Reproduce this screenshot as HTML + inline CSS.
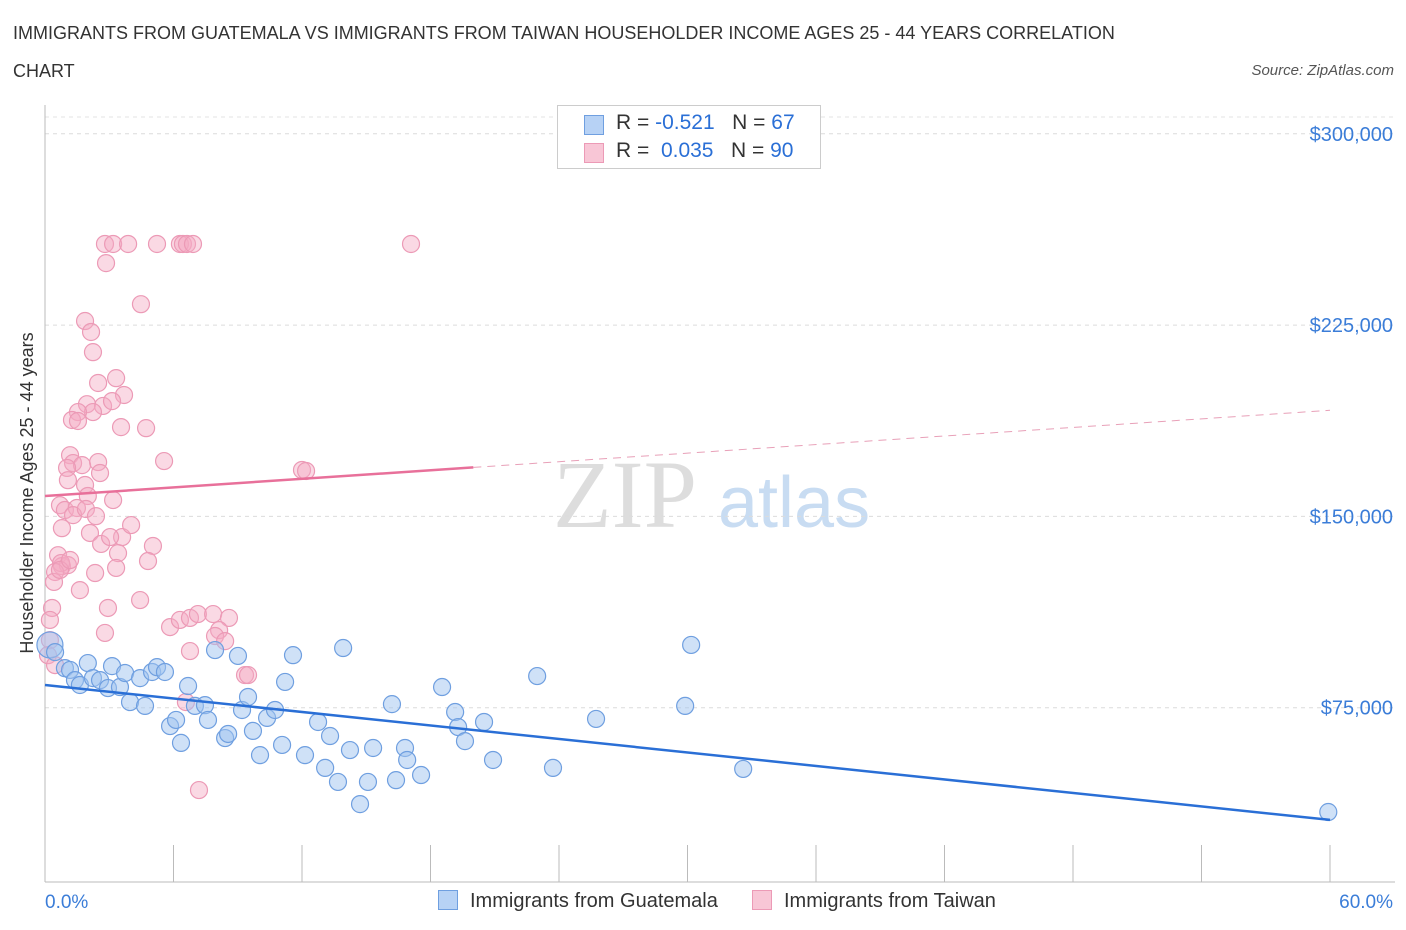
<!DOCTYPE html>
<html><head><meta charset="utf-8"><style>
body{margin:0;background:#fff;font-family:"Liberation Sans",sans-serif;}
#wrap{position:relative;width:1406px;height:930px;overflow:hidden}
.t{position:absolute;white-space:nowrap}
</style></head><body><div id="wrap">
<div class="t" style="left:13px;top:14px;font-size:18px;color:#333;line-height:38px">IMMIGRANTS FROM GUATEMALA VS IMMIGRANTS FROM TAIWAN HOUSEHOLDER INCOME AGES 25 - 44 YEARS CORRELATION<br>CHART</div>
<div class="t" style="right:12px;top:62px;font-size:15px;color:#555;font-style:italic">Source: ZipAtlas.com</div>
<svg id="svg" width="1406" height="930" style="position:absolute;left:0;top:0"></svg>
</div>
<script>
const blueX=[0.23,0.47,0.93,1.17,1.4,1.63,2.0,2.24,2.57,2.94,3.13,3.5,3.74,3.97,4.44,4.67,5.0,5.23,5.6,5.84,6.12,6.35,6.68,7.0,7.47,7.61,7.94,8.41,8.55,9.01,9.2,9.48,9.71,10.04,10.37,10.74,11.07,11.21,11.58,12.14,12.75,13.08,13.31,13.68,13.92,14.24,14.71,15.08,15.32,16.2,16.39,16.81,16.91,17.56,18.54,19.15,19.29,19.61,20.5,20.92,22.98,23.72,25.73,29.89,30.17,32.6,59.92];
const blueY=[99.6,96.8,90.5,89.8,85.8,83.9,92.5,86.6,85.8,82.7,91.3,83.1,88.6,77.2,86.6,75.7,89.0,90.9,89.0,67.8,70.2,61.2,83.5,75.7,76.0,70.2,97.6,63.1,64.7,95.3,74.1,79.2,65.9,56.4,71.0,74.1,60.4,85.1,95.6,56.4,69.4,51.4,63.9,45.9,98.4,58.4,37.2,45.9,59.2,76.4,46.6,59.2,54.5,48.6,83.1,73.3,67.4,61.9,69.4,54.5,87.4,51.4,70.6,75.7,99.6,51.0,34.1];
const pinkX=[2.8,3.18,3.88,5.23,6.3,6.44,6.63,6.91,17.09,2.85,4.48,1.87,2.15,2.24,2.48,3.32,3.69,1.96,2.71,3.13,2.24,1.54,1.26,1.54,3.55,4.72,1.17,1.31,1.73,2.48,2.57,5.56,12.0,12.19,1.03,1.07,1.87,2.0,3.18,0.7,0.93,1.49,1.31,1.91,2.38,0.79,2.1,2.62,3.6,3.04,4.02,5.04,3.41,0.61,0.79,1.07,0.75,4.81,3.32,2.34,0.47,0.42,4.44,2.94,0.33,0.23,2.8,5.84,6.3,6.77,7.14,7.85,8.59,8.13,7.94,8.41,6.77,9.34,9.48,6.58,7.19,0.23,0.14,0.47,0.7,1.17,1.63];
const pinkY=[256.8,256.8,256.8,256.8,256.8,256.8,256.8,256.8,256.8,249.3,233.2,226.6,222.3,214.4,202.3,204.2,197.6,194.0,193.3,195.2,190.9,190.9,187.8,187.4,185.0,184.6,174.0,170.9,170.1,171.3,167.0,171.7,168.2,167.8,169.0,164.2,162.3,158.0,156.4,154.4,152.5,153.3,150.5,152.9,150.1,145.4,143.5,139.2,141.9,141.9,146.6,138.4,135.6,134.8,130.5,130.9,131.7,132.5,129.8,127.8,128.2,124.3,117.2,114.1,114.1,109.4,104.3,106.6,109.4,110.2,111.7,111.7,110.2,105.4,103.1,101.1,97.2,87.8,87.8,77.2,42.7,101.5,95.6,91.7,129.0,132.9,121.1];
const yTicks=[300,225,150,75];
const yTickLabels=["$300,000","$225,000","$150,000","$75,000"];
const blueTrend=[83.9,31.0];
const pinkTrend=[158.0,0.56];
const xS=v=>45+v/60*1285, yS=v=>899-v*2.5507;
const NS="http://www.w3.org/2000/svg",svg=document.getElementById('svg');
function mk(t,a,p){const e=document.createElementNS(NS,t);for(const k in a)e.setAttribute(k,a[k]);(p||svg).appendChild(e);return e;}
let w=mk('text',{x:553,y:527,'font-size':96,fill:'#ddd','font-family':'Liberation Serif'});w.textContent='ZIP';


w=mk('text',{x:718,y:527,'font-size':72,fill:'#c8dcf2','font-family':'Liberation Sans'});w.textContent='atlas';


let g=mk('line',{x1:45,x2:1395,y1:117,y2:117,stroke:'#e3e3e3','stroke-dasharray':'4,4'});


yTicks.forEach((v,i)=>{
 const l=mk('line',{x1:45,x2:1395,y1:yS(v*1),y2:yS(v*1),stroke:'#dcdcdc','stroke-dasharray':'4,4'});
 
 
 const t=mk('text',{x:1393,y:yS(v)+7,'text-anchor':'end','font-size':20,fill:'#3b7dd8'});t.textContent=yTickLabels[i];
 
 
});
let ax=mk('line',{x1:45,x2:45,y1:105,y2:882,stroke:'#bbb'});


ax=mk('line',{x1:45,x2:1395,y1:882,y2:882,stroke:'#bbb'});


for(let i=0;i<=10;i++){const l=mk('line',{x1:xS(i*6),x2:xS(i*6),y1:845,y2:882,stroke:'#bbb'});
 
 }
let t=mk('text',{x:45,y:908,'font-size':19,fill:'#3b7dd8'});t.textContent='0.0%';


t=mk('text',{x:1393,y:908,'text-anchor':'end','font-size':19,fill:'#3b7dd8'});t.textContent='60.0%';


t=mk('text',{x:0,y:0,'font-size':18,fill:'#333','text-anchor':'middle',transform:'translate(33,493) rotate(-90)'});t.textContent='Householder Income Ages 25 - 44 years';


pinkX.forEach((x,i)=>{const c=mk('circle',{cx:xS(x),cy:yS(pinkY[i]),r:8.5,fill:'rgba(244,170,195,0.45)',stroke:'#ec9ab6','stroke-width':1.2});
 
 });
blueX.forEach((x,i)=>{const c=mk('circle',{cx:xS(x),cy:yS(blueY[i]),r:i==0?13:8.5,fill:'rgba(160,195,240,0.5)',stroke:'#6f9fe0','stroke-width':1.2});
 
 });
let tl=mk('line',{x1:xS(0),y1:yS(blueTrend[0]),x2:xS(60),y2:yS(blueTrend[1]),stroke:'#2a6fd6','stroke-width':2.5});


tl=mk('line',{x1:xS(0),y1:yS(pinkTrend[0]),x2:xS(20),y2:yS(pinkTrend[0]+pinkTrend[1]*20),stroke:'#e8709a','stroke-width':2.5});


tl=mk('line',{x1:xS(20),y1:yS(pinkTrend[0]+pinkTrend[1]*20),x2:xS(60),y2:yS(pinkTrend[0]+pinkTrend[1]*60),stroke:'#e8a0b8','stroke-width':1,'stroke-dasharray':'8,6'});


</script>
<div class="t" style="left:557px;top:105px;width:262px;height:62px;border:1px solid #ccc;background:#fff;font-size:21px;color:#333">
 <div style="position:absolute;left:26px;top:9px;width:18px;height:18px;background:#b7d2f5;border:1px solid #6f9fe0"></div>
 <div style="position:absolute;left:58px;top:5px">R = <span style="color:#2a6fd6">-0.521</span>&nbsp;&nbsp;&nbsp;N = <span style="color:#2a6fd6">67</span></div>
 <div style="position:absolute;left:26px;top:37px;width:18px;height:18px;background:#f8c6d6;border:1px solid #ec9ab6"></div>
 <div style="position:absolute;left:58px;top:33px">R = &nbsp;<span style="color:#2a6fd6">0.035</span>&nbsp;&nbsp;&nbsp;N = <span style="color:#2a6fd6">90</span></div>
</div>
<div class="t" style="left:438px;top:890px;font-size:20px;color:#333"><span style="display:inline-block;width:18px;height:18px;background:#b7d2f5;border:1px solid #6f9fe0;vertical-align:-3px;margin-right:12px"></span>Immigrants from Guatemala</div>
<div class="t" style="left:752px;top:890px;font-size:20px;color:#333"><span style="display:inline-block;width:18px;height:18px;background:#f8c6d6;border:1px solid #ec9ab6;vertical-align:-3px;margin-right:12px"></span>Immigrants from Taiwan</div>
</body></html>
